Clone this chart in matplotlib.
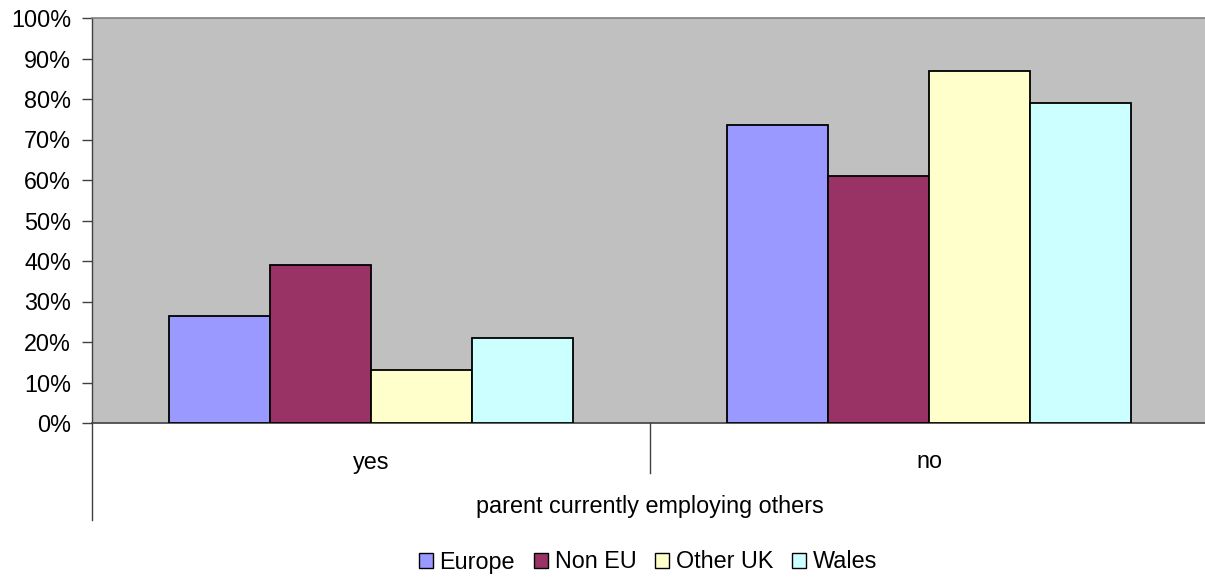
import numpy as np
import matplotlib
matplotlib.use('Agg')
import matplotlib.pyplot as plt
from matplotlib.ticker import PercentFormatter
from matplotlib.patches import Patch

plt.rcParams['font.family'] = ['Liberation Sans', 'DejaVu Sans']

# share of students (%) by whether the parent employs others
groups = ['yes', 'no']
series = ['Europe', 'Non EU', 'Other UK', 'Wales']
europe = [26.3, 73.7]
non_eu = [38.9, 61.1]
other_uk = [13.2, 86.8]
wales = [21.1, 78.9]
colores = ['#9999FF', '#993366', '#FFFFCC', '#CCFFFF']

fs = 16.8
W, H = 1205, 577
fig = plt.figure(figsize=(W / 100, H / 100), dpi=100)
# plot area runs past the right edge of the figure, as in the original sheet
ax = fig.add_axes([92 / W, (H - 423) / H, (1208 - 92) / W, (423 - 18) / H])
ax.set_facecolor('#C0C0C0')

x = np.arange(len(groups))
ancho = 0.181
for i, (vals, nombre) in enumerate(zip([europe, non_eu, other_uk, wales], series)):
    ax.bar(x + (i - 1.5) * ancho, vals, ancho, color=colores[i],
           edgecolor='black', linewidth=1.3, label=nombre, zorder=3)

ax.set_xlim(-0.5, 1.5)
ax.set_ylim(0, 100)
ax.set_yticks(np.arange(0, 101, 10))
ax.yaxis.set_major_formatter(PercentFormatter(decimals=0))
ax.tick_params(axis='y', length=7, width=1, color='#404040', pad=8,
               labelsize=fs, labelcolor='black')
ax.set_xticks([])

ax.spines['right'].set_visible(False)
ax.spines['top'].set_color('#808080')
ax.spines['top'].set_linewidth(1.2)
ax.spines['left'].set_color('#404040')
ax.spines['bottom'].set_color('#404040')
ax.spines['left'].set_linewidth(1.0)
ax.spines['bottom'].set_linewidth(1.2)

# category axis: group labels, divider and axis title below the plot
trans = ax.get_xaxis_transform()
alto = 423 - 18
ax.plot([-0.5, -0.5], [0, -(520 - 423) / alto], color='#404040', lw=1.0,
        transform=trans, clip_on=False)
ax.plot([0.5, 0.5], [0, -(473 - 423) / alto], color='#404040', lw=1.0,
        transform=trans, clip_on=False)
for xi, g in zip(x, groups):
    ax.text(xi, -(462 - 423) / alto, g, transform=trans, ha='center',
            va='center', fontsize=fs)
ax.text(0.5, -(507 - 423) / alto, 'parent currently employing others',
        transform=trans, ha='center', va='center', fontsize=fs)

handles = [Patch(facecolor=c, edgecolor='black', linewidth=1.0) for c in colores]
fig.legend(handles, series, loc='center', bbox_to_anchor=(648 / W, 1 - 562 / H),
           ncol=4, frameon=False, fontsize=fs, handlelength=0.6, handleheight=0.6,
           handletextpad=0.3, columnspacing=0.8)

fig.savefig('out.png', dpi=100)
